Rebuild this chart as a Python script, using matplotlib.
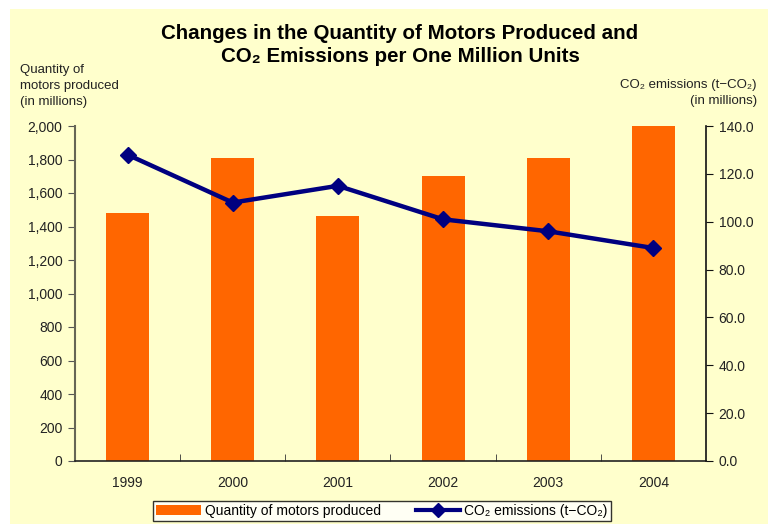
import matplotlib
matplotlib.use('Agg')
import matplotlib.pyplot as plt
from matplotlib.patches import Rectangle, Patch
from matplotlib.lines import Line2D
from matplotlib.ticker import FuncFormatter, FixedLocator

years = ['1999', '2000', '2001', '2002', '2003', '2004']
motors = [1480, 1810, 1460, 1700, 1810, 2000]   # millions of units
co2 = [128, 108, 115, 101, 96, 89]              # t-CO2 per million units

bar_color = '#FF6600'
line_color = '#000080'
bg = '#FFFFCC'
sans = ['Liberation Sans', 'DejaVu Sans']

fig = plt.figure(figsize=(7.68, 5.24), dpi=100)
fig.patch.set_facecolor('white')
fig.patches.append(Rectangle((10 / 768, 0), 1, 1 - 9 / 524, transform=fig.transFigure,
                             facecolor=bg, edgecolor='none', zorder=-10))

ax = fig.add_axes([75 / 768, 1 - 461 / 524, (706 - 75) / 768, (461 - 126) / 524])
ax.set_facecolor(bg)
x = range(len(years))
ax.bar(x, motors, width=0.41, color=bar_color, zorder=2)
ax.set_xlim(-0.5, 5.5)
ax.set_ylim(0, 2000)
ax.set_yticks(range(0, 2001, 200))
ax.yaxis.set_major_formatter(FuncFormatter(lambda v, p: f'{int(v):,}'))
ax.set_xticks(list(x))
ax.set_xticklabels(years)
ax.xaxis.set_minor_locator(FixedLocator([0.5, 1.5, 2.5, 3.5, 4.5]))
ax.tick_params(axis='x', which='major', length=0, pad=11)
ax.tick_params(axis='x', which='minor', length=5, direction='in', color='#333333')
ax.tick_params(axis='y', length=5, color='#555555', pad=4)
for lab in ax.get_xticklabels() + ax.get_yticklabels():
    lab.set_family(sans)
    lab.set_fontsize(10)
    lab.set_color('#222222')
ax.spines['top'].set_visible(False)
ax.spines['right'].set_visible(False)
ax.spines['left'].set_color('#666655')
ax.spines['left'].set_linewidth(1.5)
ax.spines['bottom'].set_color('#222222')
ax.spines['bottom'].set_linewidth(1.2)

ax2 = ax.twinx()
ax2.plot(x, co2, color=line_color, lw=3.2, marker='D', ms=8.5, zorder=3)
ax2.set_ylim(0, 140)
ax2.set_yticks(range(0, 141, 20))
ax2.yaxis.set_major_formatter(FuncFormatter(lambda v, p: f'{v:.1f}'))
ax2.tick_params(axis='y', length=5, color='#111111', pad=4)
for lab in ax2.get_yticklabels():
    lab.set_family(sans)
    lab.set_fontsize(10)
    lab.set_color('#222222')
for s in ['top', 'left', 'bottom']:
    ax2.spines[s].set_visible(False)
ax2.spines['right'].set_color('#111111')
ax2.spines['right'].set_linewidth(1.2)

fig.text(400 / 768, 1 - 45 / 524, 'Changes in the Quantity of Motors Produced and\nCO₂ Emissions per One Million Units',
         ha='center', va='center', fontsize=14.8, fontweight='bold',
         family=sans, linespacing=1.32)
fig.text(20 / 768, 1 - 86 / 524, 'Quantity of\nmotors produced\n(in millions)', ha='left', va='center',
         fontsize=9.5, family=sans, color='#222222', linespacing=1.45)
fig.text(757 / 768, 1 - 93 / 524, 'CO₂ emissions (t−CO₂)\n(in millions)', ha='right', va='center',
         fontsize=9.5, family=sans, color='#222222', linespacing=1.45, multialignment='right')

handles = [Patch(facecolor=bar_color, edgecolor='none'),
           Line2D([0], [0], color=line_color, lw=3, marker='D', ms=7)]
leg = fig.legend(handles, ['Quantity of motors produced', 'CO₂ emissions (t−CO₂)'],
                 loc='center', bbox_to_anchor=(382 / 768, 1 - 511 / 524), ncol=2,
                 frameon=True, fancybox=False, edgecolor='black', facecolor='white',
                 prop={'family': sans, 'size': 10}, handlelength=3.2, columnspacing=2.5,
                 borderpad=0.25, handletextpad=0.3)
leg.get_frame().set_linewidth(1.0)

fig.savefig('out.png', dpi=100, facecolor=fig.get_facecolor())
